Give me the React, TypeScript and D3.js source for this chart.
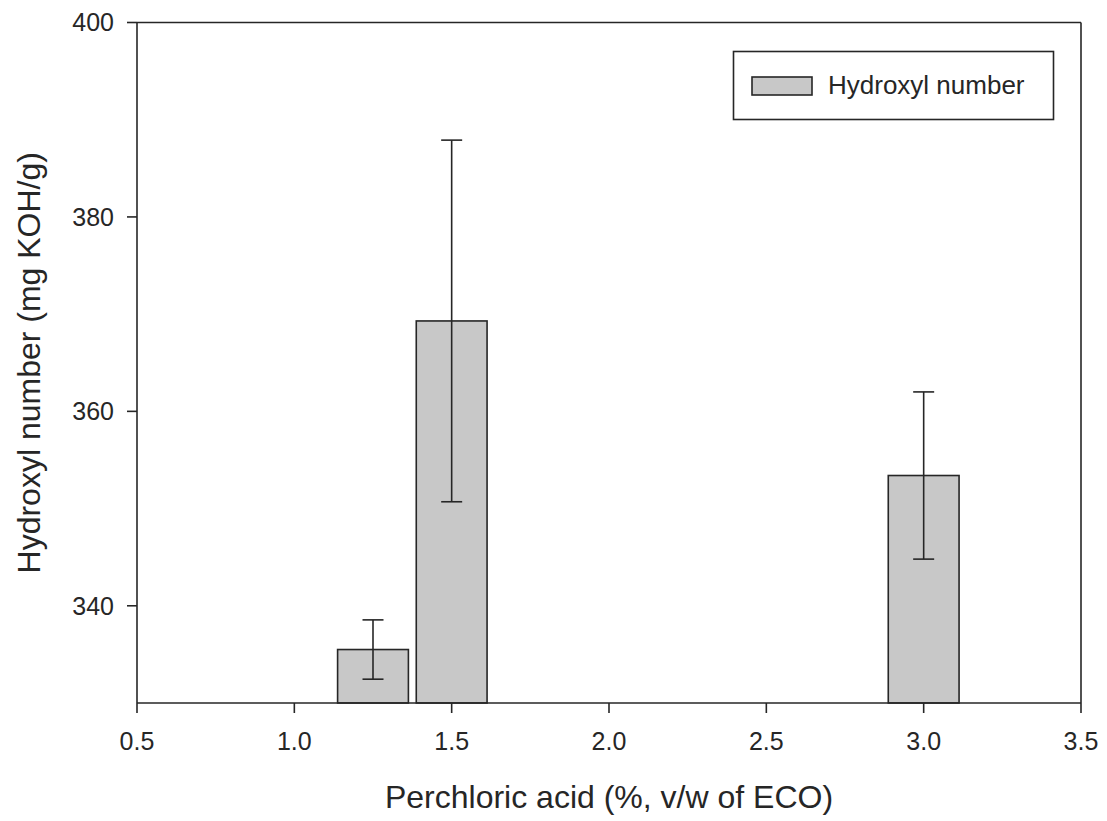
import React from "react";
import * as d3 from "d3";

const xPositions = [1.25, 1.5, 3.0];
const hydroxylValues = [335.5, 369.3, 353.4];
const errorValues = [3.05, 18.6, 8.6];
const xTicks = [0.5, 1.0, 1.5, 2.0, 2.5, 3.0, 3.5];
const yTicks = [340, 360, 380, 400];
const legendLabel = "Hydroxyl number";
const xTitle = "Perchloric acid (%, v/w of ECO)";
const yTitle = "Hydroxyl number (mg KOH/g)";

const W = 1107;
const H = 821;
const left = 137;
const right = 1081;
const top = 22.5;
const bottom = 703;
const barWidthData = 0.225;
const ink = "#262626";
const font = "Arial, 'Liberation Sans', Helvetica, sans-serif";

export default function App() {
  const x = d3.scaleLinear().domain([0.5, 3.5]).range([left, right]);
  const y = d3.scaleLinear().domain([330, 400]).range([bottom, top]);
  const bw = x(barWidthData) - x(0);
  const capHalf = 10.5;

  return (
    <svg
      width={W}
      height={H}
      style={{ position: "absolute", left: 0, top: 0, background: "#fff" }}
      fontFamily={font}
    >
      <rect x={0} y={0} width={W} height={H} fill="#fff" />
      {/* bars */}
      {xPositions.map((xv, i) => (
        <rect
          key={"b" + i}
          x={x(xv) - bw / 2}
          y={y(hydroxylValues[i])}
          width={bw}
          height={y(330) - y(hydroxylValues[i])}
          fill="#c8c8c8"
          stroke={ink}
          strokeWidth={1.6}
        />
      ))}
      {/* error bars */}
      {xPositions.map((xv, i) => {
        const cx = x(xv);
        const hi = y(hydroxylValues[i] + errorValues[i]);
        const lo = y(hydroxylValues[i] - errorValues[i]);
        return (
          <g key={"e" + i} stroke={ink} strokeWidth={1.6}>
            <line x1={cx} x2={cx} y1={hi} y2={lo} />
            <line x1={cx - capHalf} x2={cx + capHalf} y1={hi} y2={hi} />
            <line x1={cx - capHalf} x2={cx + capHalf} y1={lo} y2={lo} />
          </g>
        );
      })}
      {/* frame */}
      <g stroke={ink} strokeWidth={1.6} fill="none">
        <line x1={left} x2={right} y1={bottom} y2={bottom} />
        <line x1={left} x2={right} y1={top} y2={top} />
        <line x1={left} x2={left} y1={top} y2={bottom} />
        <line x1={right} x2={right} y1={top} y2={bottom} />
      </g>
      {/* x ticks */}
      {xTicks.map((t) => (
        <g key={"xt" + t}>
          <line x1={x(t)} x2={x(t)} y1={bottom} y2={bottom + 10} stroke={ink} strokeWidth={1.6} />
          <text x={x(t)} y={750} textAnchor="middle" fontSize={25} fill={ink}>
            {t.toFixed(1)}
          </text>
        </g>
      ))}
      {/* y ticks */}
      {yTicks.map((t) => (
        <g key={"yt" + t}>
          <line x1={left - 10} x2={left} y1={y(t)} y2={y(t)} stroke={ink} strokeWidth={1.6} />
          <text x={114} y={y(t)} dy="0.35em" textAnchor="end" fontSize={25} fill={ink}>
            {t}
          </text>
        </g>
      ))}
      {/* titles */}
      <text x={(left + right) / 2} y={808} textAnchor="middle" fontSize={32} fill={ink}>
        {xTitle}
      </text>
      <text
        transform={`translate(40, ${(top + bottom) / 2}) rotate(-90)`}
        textAnchor="middle"
        fontSize={32}
        fill={ink}
      >
        {yTitle}
      </text>
      {/* legend */}
      <rect x={733.5} y={51.5} width={320} height={68} fill="#fff" stroke={ink} strokeWidth={1.6} />
      <rect x={752} y={77} width={60} height={18} fill="#c8c8c8" stroke={ink} strokeWidth={1.6} />
      <text x={828} y={94} fontSize={26} fill={ink}>
        {legendLabel}
      </text>
    </svg>
  );
}
